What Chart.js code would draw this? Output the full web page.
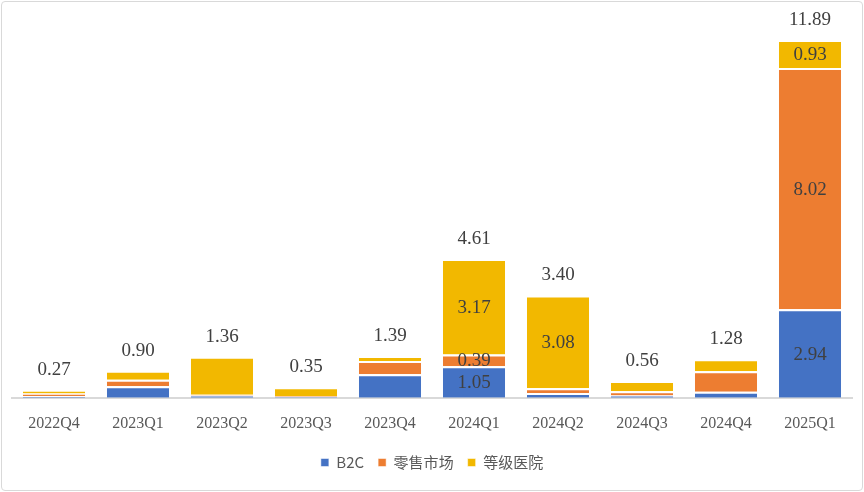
<!DOCTYPE html><html><head><meta charset="utf-8"><script src="https://cdn.jsdelivr.net/npm/chart.js@4"></script>
<style>body{margin:0;background:#fff}#w{position:absolute;left:1px;top:1px;width:860px;height:488px;border:1px solid #d9d9d9;border-radius:4px}</style></head><body><div id="w"><canvas id="c"></canvas></div><script>
const categories=['2022Q4','2023Q1','2023Q2','2023Q3','2023Q4','2024Q1','2024Q2','2024Q3','2024Q4','2025Q1'];
const b2c=[0.06,0.38,0.08,0.03,0.78,1.05,0.16,0.08,0.20,2.94];
const retail=[0.08,0.22,0.02,0.02,0.44,0.39,0.16,0.14,0.68,8.02];
const hospital=[0.13,0.30,1.26,0.30,0.17,3.17,3.08,0.34,0.40,0.93];
const totals=['0.27','0.90','1.36','0.35','1.39','4.61','3.40','0.56','1.28','11.89'];
const shownIdx=[5,9];const shownHosp=[5,6,9];
const F='"Liberation Serif", serif';
const lbl={id:'lbl',afterDatasetsDraw(ch){const c=ch.ctx;c.save();c.fillStyle='#404040';c.font='19px '+F;c.textAlign='center';c.textBaseline='middle';
ch.data.datasets.forEach((ds,di)=>{const m=ch.getDatasetMeta(di);m.data.forEach((b,i)=>{const ok=di==2?shownHosp.includes(i):shownIdx.includes(i);if(ok)c.fillText(ds.data[i].toFixed(2),b.x,(b.y+b.base)/2+1);});});
const m=ch.getDatasetMeta(2);m.data.forEach((b,i)=>c.fillText(totals[i],b.x,b.y-20));c.restore();}};
new Chart(document.getElementById('c'),{type:'bar',data:{labels:categories,datasets:[
{label:'B2C',data:b2c,backgroundColor:'#4472c4'},{label:'零售市场',data:retail,backgroundColor:'#ed7d31'},{label:'等级医院',data:hospital,backgroundColor:'#f2b800'}].map(d=>Object.assign(d,{borderColor:'#fff',borderWidth:{top:2},borderSkipped:'bottom',categoryPercentage:0.74,barPercentage:1}))},
options:{responsive:true,maintainAspectRatio:false,animation:false,layout:{padding:{left:10,right:10,top:38,bottom:10}},
plugins:{legend:{position:'bottom',labels:{boxWidth:8,boxHeight:8,padding:14,font:{size:15,family:'"Noto Sans CJK SC", sans-serif'},color:'#595959'}},tooltip:{enabled:false}},
scales:{x:{stacked:true,grid:{display:false},border:{color:'#d9d9d9',width:2},ticks:{color:'#595959',font:{size:16,family:F},padding:8}},
y:{stacked:true,display:false,min:0,max:11.89}}},plugins:[lbl]});
</script></body></html>
